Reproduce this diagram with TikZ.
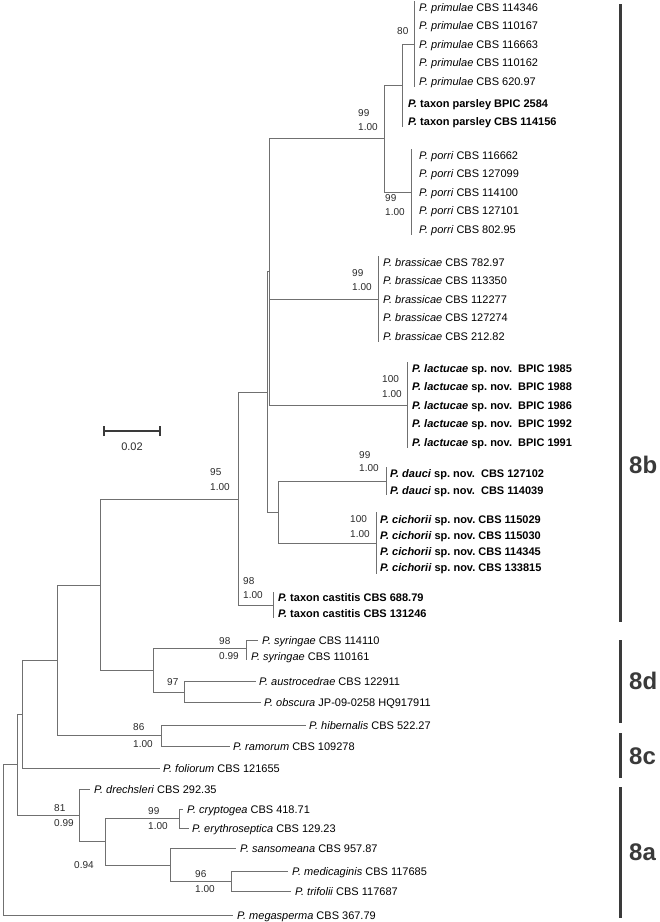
\documentclass[tikz,border=0pt]{standalone}
\usepackage{fontspec}
\setmainfont{Liberation Sans}
\frenchspacing
\definecolor{linegray}{HTML}{707070}
\definecolor{txtgray}{HTML}{2A2A2A}
\definecolor{bargray}{HTML}{3A3A3A}
\begin{document}
\begin{tikzpicture}[x=1pt,y=-1pt,
  br/.style={draw=linegray, line width=0.8pt},
  tip/.style={anchor=west, inner sep=0pt, text height=8pt, text depth=0pt, font=\fontsize{11}{11}\selectfont, text=black},
  sup/.style={anchor=west, inner sep=0pt, text height=7.2pt, text depth=0pt, font=\fontsize{10}{10}\selectfont, text=txtgray},
  clbar/.style={draw=bargray, line width=3pt},
  cllab/.style={anchor=west, inner sep=0pt, font=\fontsize{24}{24}\selectfont\bfseries, text=bargray},
  sbar/.style={draw=bargray, line width=1.3pt}
]
\fill[white] (0,0) rectangle (660,922);
\useasboundingbox (0,0) rectangle (660,922);

% ---------- internal node coordinates ----------
\coordinate (prim) at (414,44);
\coordinate (primT) at (414,1);
\coordinate (primB) at (414,87);
\coordinate (n80) at (402,85.5);
\coordinate (n80B) at (402,127);
\coordinate (porri) at (411,192);
\coordinate (porriT) at (411,149);
\coordinate (porriB) at (411,235);
\coordinate (n99a) at (384,138);
\coordinate (brass) at (378,299);
\coordinate (brassT) at (378,256);
\coordinate (brassB) at (378,342);
\coordinate (lact) at (407,405);
\coordinate (lactT) at (407,362);
\coordinate (lactB) at (407,448);
\coordinate (nA) at (269,271.5);
\coordinate (dauci) at (386,481);
\coordinate (dauciT) at (386,467);
\coordinate (dauciB) at (386,495);
\coordinate (cich) at (376,543);
\coordinate (cichT) at (376,512);
\coordinate (cichB) at (376,574);
\coordinate (nC) at (278,512);
\coordinate (nB) at (267,392);
\coordinate (cast) at (273,605);
\coordinate (castT) at (273,592);
\coordinate (castB) at (273,618);
\coordinate (nD) at (238,499);
\coordinate (nSyr) at (246,648);
\coordinate (nSyrB) at (246,660);
\coordinate (n97) at (184,692);
\coordinate (nF) at (153,670);
\coordinate (nE) at (100,585);
\coordinate (nG) at (161,735.5);
\coordinate (nH) at (57,660);
\coordinate (nI) at (22,714);
\coordinate (nJ) at (17,764.5);
\coordinate (nM) at (179,818.5);
\coordinate (nO) at (231,881);
\coordinate (nN) at (170,865);
\coordinate (nL) at (105,841);
\coordinate (nK) at (79,815);
\coordinate (root) at (3,840);

% ---------- tip labels ----------
\node[tip] (pr1) at (419,7)    {\textit{P. primulae} CBS 114346};
\node[tip] (pr2) at (419,25.5) {\textit{P. primulae} CBS 110167};
\node[tip] (pr3) at (419,44)   {\textit{P. primulae} CBS 116663};
\node[tip] (pr4) at (419,62.5) {\textit{P. primulae} CBS 110162};
\node[tip] (pr5) at (419,81)   {\textit{P. primulae} CBS 620.97};
\node[tip] (pa1) at (408,103)  {\textbf{\textit{P.} taxon parsley BPIC 2584}};
\node[tip] (pa2) at (408,121)  {\textbf{\textit{P.} taxon parsley CBS 114156}};
\node[tip] (po1) at (419,155)  {\textit{P. porri} CBS 116662};
\node[tip] (po2) at (419,173.5){\textit{P. porri} CBS 127099};
\node[tip] (po3) at (419,192)  {\textit{P. porri} CBS 114100};
\node[tip] (po4) at (419,210.5){\textit{P. porri} CBS 127101};
\node[tip] (po5) at (419,229)  {\textit{P. porri} CBS 802.95};
\node[tip] (bs1) at (383,262)  {\textit{P. brassicae} CBS 782.97};
\node[tip] (bs2) at (383,280.5){\textit{P. brassicae} CBS 113350};
\node[tip] (bs3) at (383,299)  {\textit{P. brassicae} CBS 112277};
\node[tip] (bs4) at (383,317.5){\textit{P. brassicae} CBS 127274};
\node[tip] (bs5) at (383,336)  {\textit{P. brassicae} CBS 212.82};
\node[tip] (la1) at (412,368)  {\textbf{\textit{P. lactucae} sp. nov.\ \ BPIC 1985}};
\node[tip] (la2) at (412,386.5){\textbf{\textit{P. lactucae} sp. nov.\ \ BPIC 1988}};
\node[tip] (la3) at (412,405)  {\textbf{\textit{P. lactucae} sp. nov.\ \ BPIC 1986}};
\node[tip] (la4) at (412,423.5){\textbf{\textit{P. lactucae} sp. nov.\ \ BPIC 1992}};
\node[tip] (la5) at (412,442)  {\textbf{\textit{P. lactucae} sp. nov.\ \ BPIC 1991}};
\node[tip] (da1) at (390,473)  {\textbf{\textit{P. dauci} sp. nov.\ \ CBS 127102}};
\node[tip] (da2) at (390,490)  {\textbf{\textit{P. dauci} sp. nov.\ \ CBS 114039}};
\node[tip] (ci1) at (380,519)  {\textbf{\textit{P. cichorii} sp. nov. CBS 115029}};
\node[tip] (ci2) at (380,535)  {\textbf{\textit{P. cichorii} sp. nov. CBS 115030}};
\node[tip] (ci3) at (380,551)  {\textbf{\textit{P. cichorii} sp. nov. CBS 114345}};
\node[tip] (ci4) at (380,567)  {\textbf{\textit{P. cichorii} sp. nov. CBS 133815}};
\node[tip] (ca1) at (278,597)  {\textbf{\textit{P.} taxon castitis CBS 688.79}};
\node[tip] (ca2) at (278,613)  {\textbf{\textit{P.} taxon castitis CBS 131246}};
\node[tip] (sy1) at (262,640)  {\textit{P. syringae} CBS 114110};
\node[tip] (sy2) at (251,656)  {\textit{P. syringae} CBS 110161};
\node[tip] (au)  at (259,681)  {\textit{P. austrocedrae} CBS 122911};
\node[tip] (ob)  at (264,702)  {\textit{P. obscura} JP-09-0258 HQ917911};
\node[tip] (hi)  at (309,725)  {\textit{P. hibernalis} CBS 522.27};
\node[tip] (ra)  at (233,746)  {\textit{P. ramorum} CBS 109278};
\node[tip] (fo)  at (163,768)  {\textit{P. foliorum} CBS 121655};
\node[tip] (dr)  at (94,789)   {\textit{P. drechsleri} CBS 292.35};
\node[tip] (cr)  at (187,809)  {\textit{P. cryptogea} CBS 418.71};
\node[tip] (er)  at (192,828)  {\textit{P. erythroseptica} CBS 129.23};
\node[tip] (sa)  at (240,848)  {\textit{P. sansomeana} CBS 957.87};
\node[tip] (me)  at (292,871)  {\textit{P. medicaginis} CBS 117685};
\node[tip] (tr)  at (295,891)  {\textit{P. trifolii} CBS 117687};
\node[tip] (mg)  at (237,915)  {\textit{P. megasperma} CBS 367.79};

% ---------- branches ----------
% zero-length tip groups
\draw[br] (primT) -- (primB);
\draw[br] (porriT) -- (porriB);
\draw[br] (brassT) -- (brassB);
\draw[br] (lactT) -- (lactB);
\draw[br] (dauciT) -- (dauciB);
\draw[br] (cichT) -- (cichB);
\draw[br] (castT) -- (castB);
% 8b clade
\draw[br] (n80) |- (prim);
\draw[br] (n80) -- (n80B);
\draw[br] (n99a) |- (n80);
\draw[br] (n99a) |- (porri);
\draw[br] (nA) |- (n99a);
\draw[br] (nA) |- (brass);
\draw[br] (nA) |- (lact);
\draw[br] (nC) |- (dauci);
\draw[br] (nC) |- (cich);
\draw[br] (nB) |- (nA);
\draw[br] (nB) |- (nC);
\draw[br] (nD) |- (nB);
\draw[br] (nD) |- (cast);
% 8d clade
\draw[br] (nSyr) |- ([xshift=-4pt]sy1.west);
\draw[br] (nSyr) -- (nSyrB);
\draw[br] (n97) |- ([xshift=-3pt]au.west);
\draw[br] (n97) |- ([xshift=-3pt]ob.west);
\draw[br] (nF) |- (nSyr);
\draw[br] (nF) |- (n97);
\draw[br] (nE) |- (nD);
\draw[br] (nE) |- (nF);
% 8c clade
\draw[br] (nG) |- ([xshift=-3pt]hi.west);
\draw[br] (nG) |- ([xshift=-3pt]ra.west);
\draw[br] (nH) |- (nE);
\draw[br] (nH) |- (nG);
\draw[br] (nI) |- (nH);
\draw[br] (nI) |- ([xshift=-3pt]fo.west);
\draw[br] (nJ) |- (nI);
% 8a clade
\draw[br] (nM) |- ([xshift=-4pt]cr.west);
\draw[br] (nM) |- ([xshift=-3pt]er.west);
\draw[br] (nO) |- ([xshift=-4pt]me.west);
\draw[br] (nO) |- ([xshift=-4pt]tr.west);
\draw[br] (nN) |- ([xshift=-4pt]sa.west);
\draw[br] (nN) |- (nO);
\draw[br] (nL) |- (nM);
\draw[br] (nL) |- (nN);
\draw[br] (nK) |- ([xshift=-4pt]dr.west);
\draw[br] (nK) |- (nL);
\draw[br] (nJ) |- (nK);
% root
\draw[br] (root) |- (nJ);
\draw[br] (root) |- ([xshift=-4pt]mg.west);

% ---------- support values ----------
\node[sup] (s80)  at (397,31)  {80};
\node[sup] (s1a)  at (358,113) {99};
\node[sup] (s1b)  at (358,127) {1.00};
\node[sup] (s2a)  at (385,198) {99};
\node[sup] (s2b)  at (385,212) {1.00};
\node[sup] (s3a)  at (352,273) {99};
\node[sup] (s3b)  at (352,287) {1.00};
\node[sup] (s4a)  at (382,379) {100};
\node[sup] (s4b)  at (382,394) {1.00};
\node[sup] (s5a)  at (359,455) {99};
\node[sup] (s5b)  at (359,468) {1.00};
\node[sup] (s6a)  at (350,519) {100};
\node[sup] (s6b)  at (350,534) {1.00};
\node[sup] (s7a)  at (210,472) {95};
\node[sup] (s7b)  at (210,487) {1.00};
\node[sup] (s8a)  at (243,581) {98};
\node[sup] (s8b)  at (243,595) {1.00};
\node[sup] (s9a)  at (219,641) {98};
\node[sup] (s9b)  at (219,656) {0.99};
\node[sup] (s10)  at (167,682) {97};
\node[sup] (s11a) at (133,727) {86};
\node[sup] (s11b) at (133,744) {1.00};
\node[sup] (s12a) at (54,808)  {81};
\node[sup] (s12b) at (54,823)  {0.99};
\node[sup] (s13a) at (148,811) {99};
\node[sup] (s13b) at (148,826) {1.00};
\node[sup] (s14)  at (74,865)  {0.94};
\node[sup] (s15a) at (195,874) {96};
\node[sup] (s15b) at (195,889) {1.00};

% ---------- scale bar ----------
\coordinate (sbL) at (104,431);
\coordinate (sbR) at (160,431);
\draw[sbar] (sbL) -- (sbR);
\draw[sbar] ([yshift=-5pt]sbL) -- ([yshift=5pt]sbL);
\draw[sbar] ([yshift=-5pt]sbR) -- ([yshift=5pt]sbR);
\node[sup, anchor=center, font=\fontsize{11}{11}\selectfont] (sblab) at (132,447) {0.02};

% ---------- clade bars ----------
\coordinate (b8bT) at (620,4);   \coordinate (b8bB) at (620,622);
\coordinate (b8dT) at (620,640); \coordinate (b8dB) at (620,723);
\coordinate (b8cT) at (620,733); \coordinate (b8cB) at (620,778);
\coordinate (b8aT) at (620,787); \coordinate (b8aB) at (620,918);
\draw[clbar] (b8bT) -- (b8bB);
\draw[clbar] (b8dT) -- (b8dB);
\draw[clbar] (b8cT) -- (b8cB);
\draw[clbar] (b8aT) -- (b8aB);
\node[cllab] (l8b) at (629,465) {8b};
\node[cllab] (l8d) at (629,681) {8d};
\node[cllab] (l8c) at (629,756) {8c};
\node[cllab] (l8a) at (629,852) {8a};
\end{tikzpicture}
\end{document}
